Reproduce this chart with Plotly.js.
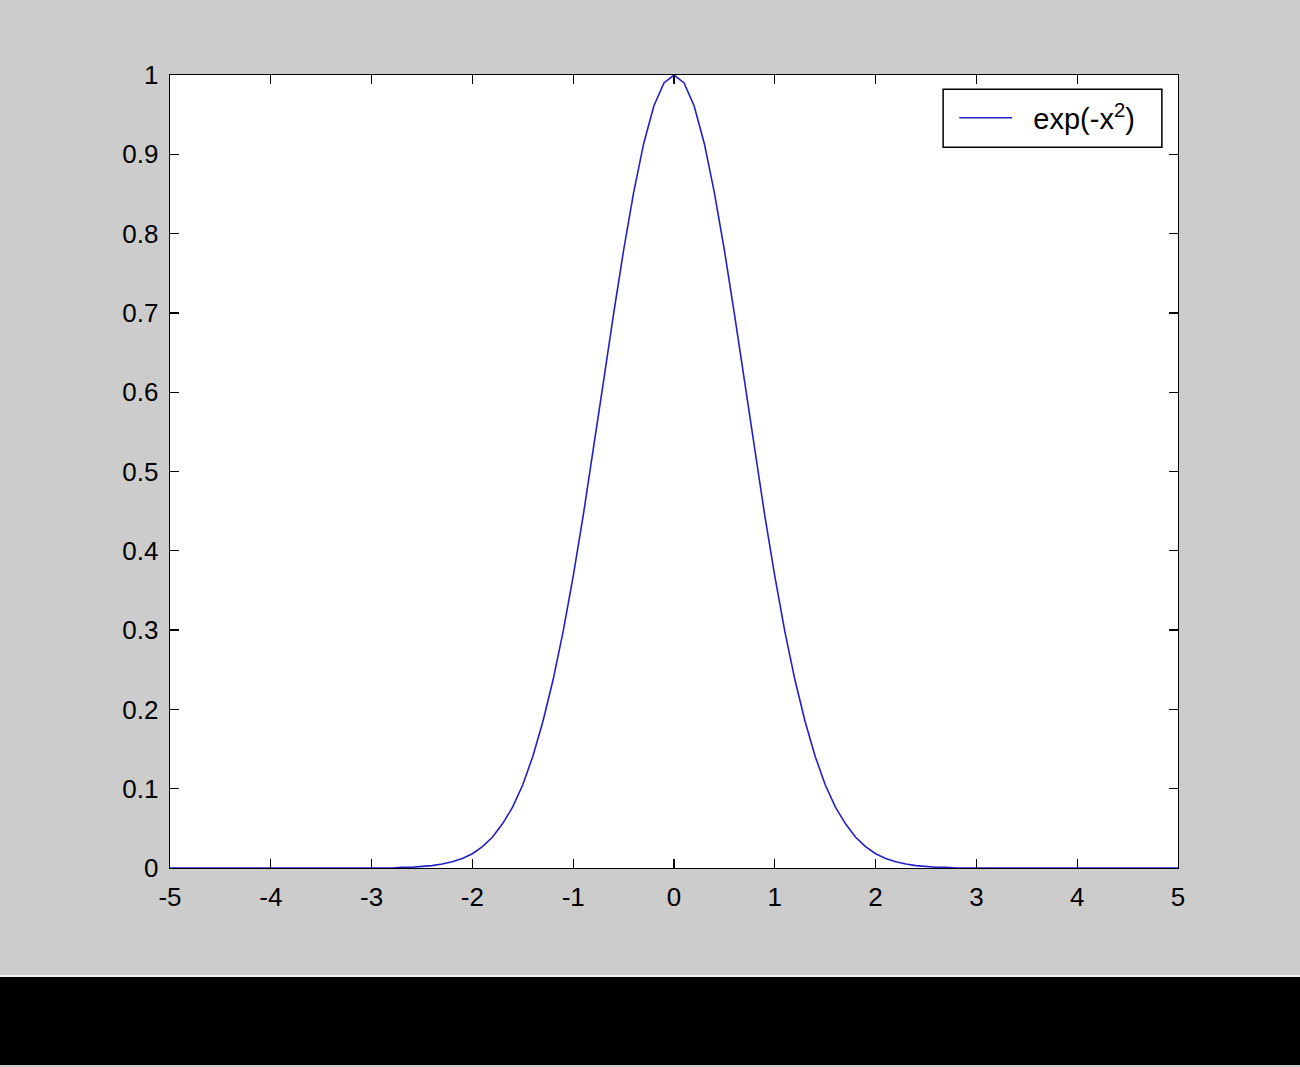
<!DOCTYPE html>
<html>
<head>
<meta charset="utf-8">
<script src="https://cdn.plot.ly/plotly-3.0.1.min.js"></script>
<style>html,body{margin:0;padding:0;background:#cccccc;}#chart{width:1300px;height:1067px;}</style>
</head>
<body>
<div id="chart"></div>
<script>
var seriesName = 'exp(-x<sup>2</sup>)';
var xValues = [-5.0,-4.9,-4.8,-4.7,-4.6,-4.5,-4.4,-4.3,-4.2,-4.1,-4.0,-3.9,-3.8,-3.7,-3.6,-3.5,-3.4,-3.3,-3.2,-3.1,
  -3.0,-2.9,-2.8,-2.7,-2.6,-2.5,-2.4,-2.3,-2.2,-2.1,-2.0,-1.9,-1.8,-1.7,-1.6,-1.5,-1.4,-1.3,-1.2,-1.1,
  -1.0,-0.9,-0.8,-0.7,-0.6,-0.5,-0.4,-0.3,-0.2,-0.1,0.0,0.1,0.2,0.3,0.4,0.5,0.6,0.7,0.8,0.9,
  1.0,1.1,1.2,1.3,1.4,1.5,1.6,1.7,1.8,1.9,2.0,2.1,2.2,2.3,2.4,2.5,2.6,2.7,2.8,2.9,
  3.0,3.1,3.2,3.3,3.4,3.5,3.6,3.7,3.8,3.9,4.0,4.1,4.2,4.3,4.4,4.5,4.6,4.7,4.8,4.9,5.0];
var yValues = [0,0,0,0,0,0,0,0,0,0,0,0,0,0,0,0,0,0,0,0,
  0,0,0,0.001,0.001,0.002,0.003,0.005,0.008,0.012,0.018,0.027,0.039,0.056,0.077,0.105,0.141,0.185,0.237,0.298,
  0.368,0.445,0.527,0.613,0.698,0.779,0.852,0.914,0.961,0.990,1.000,0.990,0.961,0.914,0.852,0.779,0.698,0.613,0.527,0.445,
  0.368,0.298,0.237,0.185,0.141,0.105,0.077,0.056,0.039,0.027,0.018,0.012,0.008,0.005,0.003,0.002,0.001,0.001,0,0,
  0,0,0,0,0,0,0,0,0,0,0,0,0,0,0,0,0,0,0,0,0];
var xTickVals = [-5,-4,-3,-2,-1,0,1,2,3,4,5];
var xTickText = ['-5','-4','-3','-2','-1','0','1','2','3','4','5'];
var yTickVals = [0,0.1,0.2,0.3,0.4,0.5,0.6,0.7,0.8,0.9,1];
var yTickText = ['0','0.1','0.2','0.3','0.4','0.5','0.6','0.7','0.8','0.9','1'];

var FONT = 'Liberation Sans, Arial, sans-serif';
var trace = {
  x: xValues, y: yValues, type: 'scatter', mode: 'lines',
  name: '\u00a0\u00a0' + seriesName,
  line: {color: '#2020c8', width: 1.6}
};
var axisCommon = {
  showgrid: false, zeroline: false, showline: true, linecolor: '#000', linewidth: 1.3,
  mirror: 'ticks', ticks: 'inside', ticklen: 9, tickwidth: 1.3, tickcolor: '#000',
  tickfont: {family: FONT, size: 26, color: '#000'}
};
var layout = {
  width: 1300, height: 1067,
  margin: {l: 170, r: 122, t: 75, b: 199},
  paper_bgcolor: '#cccccc', plot_bgcolor: '#ffffff',
  showlegend: true,
  legend: {
    x: 0.778, y: 0.978, xanchor: 'left', yanchor: 'top',
    bgcolor: 'rgba(0,0,0,0)', borderwidth: 0, itemwidth: 53,
    font: {family: FONT, size: 29, color: '#000'}
  },
  xaxis: Object.assign({}, axisCommon, {range: [-5, 5], tickmode: 'array', tickvals: xTickVals, ticktext: xTickText, ticklabelstandoff: 5}),
  yaxis: Object.assign({}, axisCommon, {range: [0, 1], tickmode: 'array', tickvals: yTickVals, ticktext: yTickText, ticklabelstandoff: 5}),
  shapes: [
    {type: 'rect', xref: 'paper', yref: 'paper', x0: 0.767, x1: 0.984, y0: 0.909, y1: 0.982, fillcolor: '#ffffff', line: {color: '#000', width: 1.5}},
    {type: 'rect', xref: 'paper', yref: 'paper', x0: -0.2, x1: 1.13, y0: -0.2484, y1: -0.1375, fillcolor: '#000', line: {width: 0}, layer: 'below'},
    {type: 'line', xref: 'paper', yref: 'paper', x0: -0.2, x1: 1.13, y0: -0.1362, y1: -0.1362, line: {color: '#eeeeee', width: 2}}
  ]
};
Plotly.newPlot('chart', [trace], layout, {displayModeBar: false, staticPlot: true});
</script>
</body>
</html>
